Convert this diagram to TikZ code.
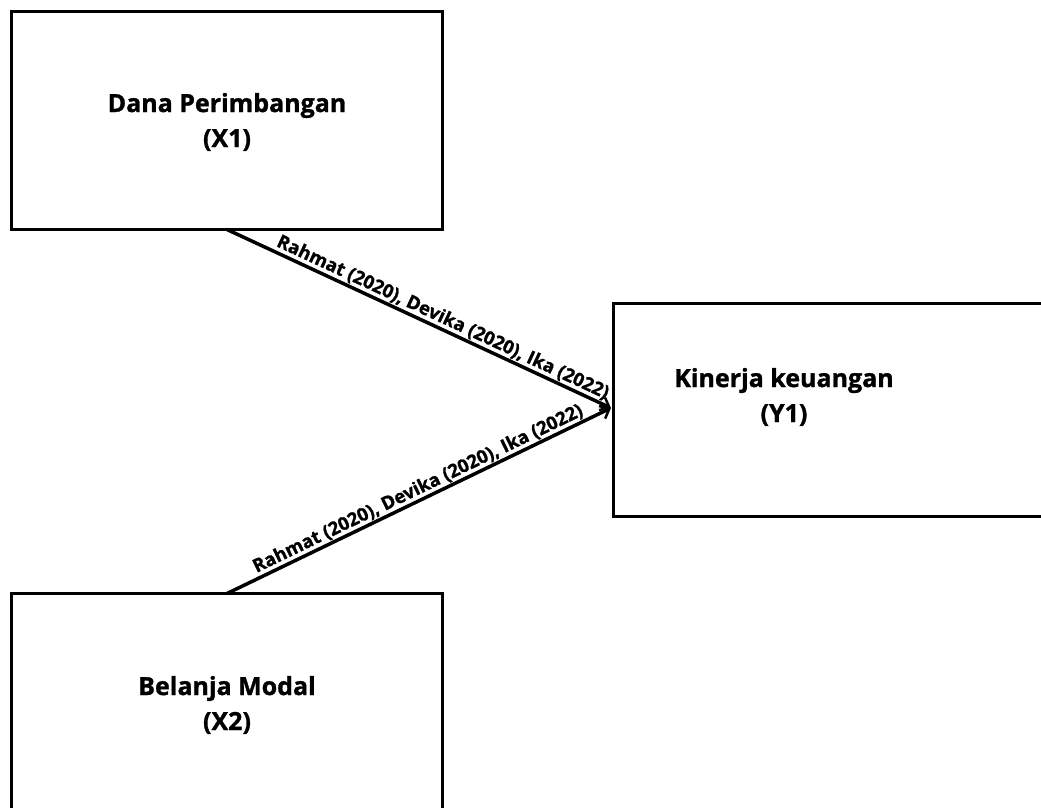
\documentclass[tikz,border=0pt]{standalone}
\usepackage{fontspec}
\setmainfont{Open Sans}[BoldFeatures={FakeBold=1.2}]
\usetikzlibrary{arrows.meta}
\begin{document}
\begin{tikzpicture}[x=1pt,y=-1pt,
  boxtext/.style={font=\bfseries\fontsize{25}{35}\selectfont,align=center},
  conn/.style={line width=3.5pt,-{Straight Barb[length=8pt,width=14pt,line width=2.5pt]}},
  lbl/.style={font=\bfseries\fontsize{18.5}{20}\selectfont,sloped,above,inner sep=1pt}]
\useasboundingbox (0,0) rectangle (1041,807);
\begin{scope}
\clip (0,0) rectangle (1041,807);
\draw[line width=3.5pt] (11.5,11.5) rectangle (442.5,229.5);
\coordinate (x1s) at (227,229.5);
\draw[line width=3.5pt] (613.5,303.5) rectangle (1060,516.5);
\coordinate (y1w) at (611,408);
\draw[line width=3.5pt] (11.5,593.5) rectangle (442.5,830);
\coordinate (x2n) at (227,593.5);
\end{scope}
\node[boxtext] (tx1) at (227,122) {Dana Perimbangan\\(X1)};
\node[boxtext] (ty1) at (784,397) {Kinerja keuangan\\(Y1)};
\node[boxtext] (tx2) at (227,705) {Belanja Modal\\(X2)};
\draw[conn] (x1s) -- node[lbl,pos=0.55] {Rahmat (2020), Devika (2020), Ika (2022)} (y1w);
\draw[conn] (x2n) -- node[lbl,pos=0.51] {Rahmat (2020), Devika (2020), Ika (2022)} (y1w);
\end{tikzpicture}
\end{document}
